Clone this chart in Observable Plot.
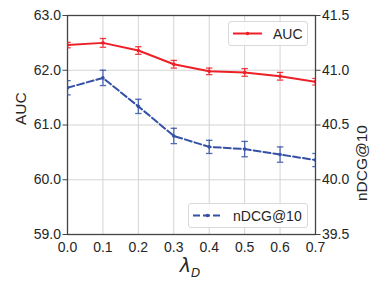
<!DOCTYPE html>
<html>
<head>
<meta charset="utf-8">
<script src="https://cdn.jsdelivr.net/npm/d3@7"></script>
<script src="https://cdn.jsdelivr.net/npm/@observablehq/plot@0.6"></script>
<style>
  html, body { margin: 0; padding: 0; background: #fff; }
  #wrap { position: relative; width: 382px; height: 287px; font-family: "Liberation Sans", Arial, sans-serif; color: #262626; }
  #wrap svg { position: absolute; left: 0; top: 0; }
  .legend { position: absolute; background: rgba(255,255,255,0.85); border: 1px solid #d9d9d9; border-radius: 3px; box-sizing: border-box; font-size: 14px; }
  .legend svg { position: absolute; }
  .legend span { position: absolute; line-height: 14px; }
  #xlabel { position: absolute; font-size: 19px; font-style: italic; font-family: "DejaVu Sans", sans-serif; line-height: 20px; }
  #xlabel sub { font-size: 12px; vertical-align: -5px; }
</style>
</head>
<body>
<div id="wrap"></div>
<script>
const lambdas = [0.0, 0.1, 0.2, 0.3, 0.4, 0.5, 0.6, 0.7];
const auc = [62.46, 62.50, 62.36, 62.11, 61.98, 61.96, 61.89, 61.79];
const aucErr = [0.05, 0.08, 0.07, 0.07, 0.06, 0.07, 0.07, 0.06];
const ndcg = [40.84, 40.93, 40.67, 40.40, 40.30, 40.28, 40.23, 40.18];
const ndcgErr = [0.065, 0.07, 0.065, 0.07, 0.06, 0.07, 0.07, 0.06];
const xTicks = [0.0, 0.1, 0.2, 0.3, 0.4, 0.5, 0.6, 0.7];
const leftTicks = [59.0, 60.0, 61.0, 62.0, 63.0];
const rightTicks = [39.5, 40.0, 40.5, 41.0, 41.5];
const leftDomain = [59, 63];
const rightDomain = [39.5, 41.5];

const red = "#ee2027";
const blue = "#3451a6";

// map right-axis values onto the left scale
const k = (leftDomain[1] - leftDomain[0]) / (rightDomain[1] - rightDomain[0]);
const toLeft = v => leftDomain[0] + (v - rightDomain[0]) * k;
const fromLeft = v => rightDomain[0] + (v - leftDomain[0]) / k;

const aucData = lambdas.map((x, i) => ({x, y: auc[i], lo: auc[i] - aucErr[i], hi: auc[i] + aucErr[i]}));
const ndcgData = lambdas.map((x, i) => ({x, y: toLeft(ndcg[i]), lo: toLeft(ndcg[i] - ndcgErr[i]), hi: toLeft(ndcg[i] + ndcgErr[i])}));

const hline = { draw(ctx, size) { const r = Math.sqrt(size / Math.PI); ctx.moveTo(-r, 0); ctx.lineTo(r, 0); } };

function series(data, color, dash) {
  return [
    Plot.ruleX(data, {x: "x", y1: "lo", y2: "hi", stroke: color, strokeWidth: 1.3, strokeOpacity: 0.85, clip: true}),
    Plot.dot(data, {x: "x", y: "lo", symbol: hline, r: 3.2, stroke: color, strokeWidth: 1.3, strokeOpacity: 0.85, clip: true}),
    Plot.dot(data, {x: "x", y: "hi", symbol: hline, r: 3.2, stroke: color, strokeWidth: 1.3, strokeOpacity: 0.85, clip: true}),
    Plot.line(data, {x: "x", y: "y", stroke: color, strokeWidth: 2, strokeDasharray: dash, clip: true}),
    Plot.dot(data, {x: "x", y: "y", r: 1.8, fill: color, clip: true})
  ];
}

const chart = Plot.plot({
  width: 382,
  height: 287,
  marginLeft: 67,
  marginRight: 67,
  marginTop: 15,
  marginBottom: 53,
  style: {fontFamily: "Liberation Sans, Arial, sans-serif", fontSize: "14px", color: "#262626", background: "transparent"},
  x: {domain: [0, 0.7]},
  y: {domain: leftDomain},
  marks: [
    Plot.gridX(xTicks, {stroke: "#d4d4d4", strokeOpacity: 1, strokeWidth: 1}),
    Plot.gridY([60, 61, 62], {stroke: "#d4d4d4", strokeOpacity: 1, strokeWidth: 1}),
    Plot.frame({stroke: "#444", strokeWidth: 1.3}),
    Plot.axisX({ticks: xTicks, tickSize: 0, tickPadding: 8, tickFormat: d3.format(".1f"), label: null, fontSize: 14}),
    Plot.axisY({anchor: "left", ticks: leftTicks, tickSize: 4.5, tickPadding: 2, tickFormat: d3.format(".1f"), label: null, stroke: "#444", fontSize: 14}),
    Plot.axisY({anchor: "right", ticks: rightTicks.map(toLeft), tickSize: 4.5, tickPadding: 2, tickFormat: d => fromLeft(d).toFixed(1), label: null, stroke: "#444", fontSize: 14}),
    Plot.text(["AUC"], {frameAnchor: "left", dx: -46, rotate: -90, fontSize: 15.5, fill: "#262626"}),
    Plot.text(["nDCG@10"], {frameAnchor: "right", dx: 47, rotate: -90, fontSize: 15.5, fill: "#262626"}),
    ...series(ndcgData, blue, "7,3"),
    ...series(aucData, red, null)
  ]
});

const wrap = document.getElementById("wrap");
wrap.appendChild(chart);

function legend(left, top, w, h, color, dash, label, lineX0, lineX1, textX) {
  const box = document.createElement("div");
  box.className = "legend";
  Object.assign(box.style, {left: left + "px", top: top + "px", width: w + "px", height: h + "px"});
  const cy = h / 2 - 1;
  box.innerHTML = `<svg width="${w}" height="${h}" style="left:-1px;top:-1px">
    <line x1="${lineX0}" x2="${lineX1}" y1="${cy + 1}" y2="${cy + 1}" stroke="${color}" stroke-width="2" ${dash ? `stroke-dasharray="${dash}"` : ""}/>
    <circle cx="${(lineX0 + lineX1) / 2}" cy="${cy + 1}" r="1.8" fill="${color}"/></svg>
    <span style="left:${textX}px;top:${cy - 7}px">${label}</span>`;
  wrap.appendChild(box);
}
legend(228, 21, 80, 25, red, null, "AUC", 5, 34, 44);
legend(188, 203, 120, 25, blue, "7,3", "nDCG@10", 5, 34, 44);

const xl = document.createElement("div");
xl.id = "xlabel";
xl.innerHTML = "λ<sub>D</sub>";
wrap.appendChild(xl);
const w = xl.getBoundingClientRect().width;
xl.style.left = (190 - w / 2) + "px";
xl.style.top = "255px";
</script>
</body>
</html>
